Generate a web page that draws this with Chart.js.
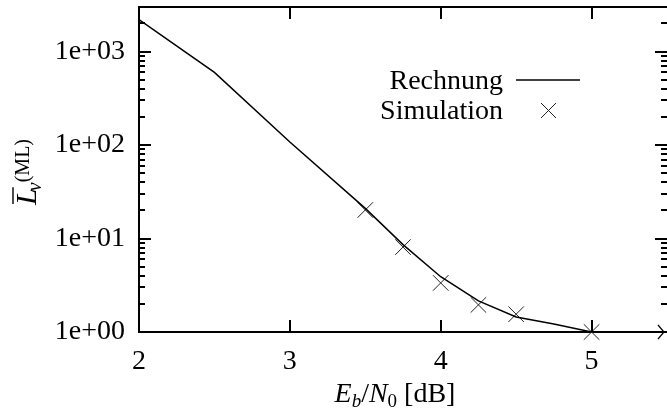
<!DOCTYPE html>
<html>
<head>
<meta charset="utf-8">
<script src="https://cdn.jsdelivr.net/npm/chart.js@4.4.1/dist/chart.umd.min.js"></script>
<style>
  html, body { margin: 0; padding: 0; background: #fff; }
  #wrap { width: 667px; height: 412px; }
</style>
</head>
<body>
<div id="wrap"><canvas id="chart" width="667" height="412"></canvas></div>
<script>
// Rechnung (Linie) und Simulation (Kreuze)
const calcX = [2, 2.5, 3, 3.5, 3.75, 4, 4.25, 4.5, 4.75, 5];
const calcY = [2200, 600, 108, 21, 8.6, 3.9, 2.15, 1.45, 1.22, 1.0];
const simX = [3.5, 3.75, 4, 4.25, 4.5, 5];
const simY = [20.2, 8.1, 3.35, 1.95, 1.55, 1.0];
const xTicks = [2, 3, 4, 5];
const yTicks = [1, 10, 100, 1000];
const legendLabels = ['Rechnung', 'Simulation'];

const FONT = '"Liberation Serif", "DejaVu Serif", serif';

function fmtExp(v) {
    const e = Math.round(Math.log10(v));
    return '1e+' + String(e).padStart(2, '0');
}

const decorPlugin = {
    id: 'decor',
    afterDraw(chart) {
        const ctx = chart.ctx;
        const area = chart.chartArea;
        const xs = chart.scales.x;
        const ys = chart.scales.y;
        ctx.save();
        ctx.strokeStyle = '#000';
        ctx.lineWidth = 2;

        // obere Rahmenlinie
        ctx.beginPath();
        ctx.moveTo(area.left - 1, area.top);
        ctx.lineTo(area.right, area.top);
        ctx.stroke();

        // x-Ticks unten und oben (nach innen)
        xTicks.forEach(v => {
            const px = Math.round(xs.getPixelForValue(v));
            ctx.beginPath();
            ctx.moveTo(px, area.bottom);
            ctx.lineTo(px, area.bottom - 12);
            ctx.moveTo(px, area.top);
            ctx.lineTo(px, area.top + 12);
            ctx.stroke();
        });

        // y-Ticks links und rechts, mit Zwischenticks
        for (let d = 1; d <= 1000; d *= 10) {
            for (let m = 1; m <= 9; m++) {
                const v = d * m;
                if (v < ys.min || v > ys.max) continue;
                const py = Math.round(ys.getPixelForValue(v));
                const len = m === 1 ? 12 : 6;
                ctx.beginPath();
                ctx.moveTo(area.left, py);
                ctx.lineTo(area.left + len, py);
                ctx.moveTo(area.right, py);
                ctx.lineTo(area.right - len, py);
                ctx.stroke();
            }
        }

        // Pfeil am Ende der x-Achse
        ctx.lineWidth = 1.2;
        ctx.beginPath();
        ctx.moveTo(area.right - 9, area.bottom - 7);
        ctx.lineTo(area.right - 3, area.bottom);
        ctx.lineTo(area.right - 9, area.bottom + 7);
        ctx.stroke();

        // Legende
        ctx.fillStyle = '#000';
        ctx.font = '28px ' + FONT;
        ctx.textAlign = 'right';
        ctx.textBaseline = 'alphabetic';
        ctx.fillText(legendLabels[0], 503, 89);
        ctx.fillText(legendLabels[1], 503, 119);
        ctx.lineWidth = 1.5;
        ctx.beginPath();
        ctx.moveTo(516, 80);
        ctx.lineTo(580, 80);
        ctx.stroke();
        ctx.strokeStyle = '#222';
        ctx.lineWidth = 1;
        ctx.beginPath();
        ctx.moveTo(541, 103);
        ctx.lineTo(556, 118);
        ctx.moveTo(556, 103);
        ctx.lineTo(541, 118);
        ctx.stroke();

        // x-Achsentitel: E_b/N_0 [dB]
        ctx.textAlign = 'left';
        ctx.strokeStyle = '#000';
        const yb = 402;
        const parts = [
            ['italic 28px ' + FONT, 'E', 0],
            ['italic 19px ' + FONT, 'b', 5],
            ['28px ' + FONT, '/', 0],
            ['italic 28px ' + FONT, 'N', 0],
            ['19px ' + FONT, '0', 5],
            ['28px ' + FONT, ' [dB]', 0]
        ];
        let total = 0;
        parts.forEach(([f, t]) => { ctx.font = f; total += ctx.measureText(t).width; });
        let x = 395 - total / 2;
        parts.forEach(([f, t, dy]) => {
            ctx.font = f;
            ctx.fillText(t, x, yb + dy);
            x += ctx.measureText(t).width;
        });

        // y-Achsentitel: L quer, Index v, hoch (ML)
        ctx.translate(36, 205);
        ctx.rotate(-Math.PI / 2);
        ctx.font = 'italic 30px ' + FONT;
        ctx.fillText('L', 0, 0);
        const wL = ctx.measureText('L').width;
        ctx.lineWidth = 1.4;
        ctx.beginPath();
        ctx.moveTo(1, -23);
        ctx.lineTo(wL + 1, -23);
        ctx.stroke();
        ctx.font = 'italic 20px ' + FONT;
        ctx.fillText('v', wL - 3, 5);
        ctx.font = '20px ' + FONT;
        ctx.fillText('(ML)', wL + 6, -7);
        ctx.restore();
    }
};

const ctx = document.getElementById('chart').getContext('2d');
new Chart(ctx, {
    type: 'line',
    data: {
        datasets: [
            {
                label: legendLabels[0],
                data: calcX.map((x, i) => ({ x: x, y: calcY[i] })),
                borderColor: '#000',
                borderWidth: 1.5,
                pointRadius: 0,
                tension: 0,
                fill: false
            },
            {
                label: legendLabels[1],
                data: simX.map((x, i) => ({ x: x, y: simY[i] })),
                showLine: false,
                pointStyle: 'crossRot',
                pointRadius: 11,
                pointBorderWidth: 1,
                borderColor: '#222',
                backgroundColor: '#222',
                clip: false
            }
        ]
    },
    options: {
        responsive: false,
        animation: false,
        layout: { autoPadding: false, padding: { top: 7, right: 0, left: 0, bottom: 0 } },
        plugins: {
            legend: { display: false },
            tooltip: { enabled: false }
        },
        scales: {
            x: {
                type: 'linear',
                min: 2,
                max: 5.5,
                grid: { display: false, drawTicks: false },
                border: { display: true, color: '#000', width: 2 },
                afterBuildTicks: s => { s.ticks = xTicks.map(v => ({ value: v })); },
                afterFit: s => {
                    s.height = 80;
                    s.paddingLeft = 0;
                    s.paddingRight = 0;
                },
                ticks: {
                    color: '#000',
                    padding: 13,
                    maxRotation: 0,
                    font: { family: FONT, size: 28 }
                }
            },
            y: {
                type: 'logarithmic',
                min: 1,
                max: 3000,
                grid: { display: false, drawTicks: false },
                border: { display: true, color: '#000', width: 2 },
                afterBuildTicks: s => { s.ticks = yTicks.map(v => ({ value: v })); },
                afterFit: s => {
                    s.width = 139;
                    s.paddingTop = 0;
                    s.paddingBottom = 0;
                },
                ticks: {
                    color: '#000',
                    padding: 14,
                    font: { family: FONT, size: 28 },
                    callback: v => fmtExp(v)
                }
            }
        }
    },
    plugins: [decorPlugin]
});
</script>
</body>
</html>
